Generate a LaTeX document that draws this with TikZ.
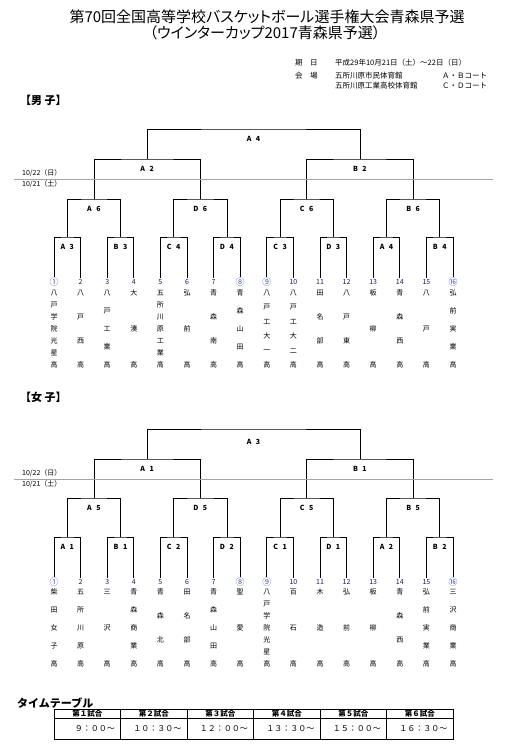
\documentclass[tikz,border=0pt]{standalone}
\usepackage{fontspec}
\setmainfont{Noto Sans CJK JP}
\newfontfamily\ttlfont{Noto Sans CJK JP}[RawFeature=+palt]
\usetikzlibrary{positioning}
\definecolor{numblue}{RGB}{25,25,110}
\definecolor{seedblue}{RGB}{70,90,180}
\definecolor{daygray}{RGB}{165,165,165}
\newcommand\glab[2]{#1\hspace{4.5pt}#2}

\begin{document}
\begin{tikzpicture}[x=1pt,y=-1pt,
    ttl/.style={font=\ttlfont\fontsize{15}{17}\selectfont,inner sep=0pt},
    info/.style={font=\fontsize{7.5}{9}\selectfont,anchor=west,inner sep=0pt},
    sect/.style={font=\fontsize{11}{12}\selectfont\bfseries,anchor=west,inner sep=0pt},
    game/.style={font=\fontsize{7}{8}\selectfont\bfseries,inner sep=0pt},
    num/.style={font=\fontsize{7}{8}\selectfont,text=numblue,inner sep=1.5pt},
    seed/.style={num,font=\fontsize{9}{9}\selectfont,text=seedblue,inner sep=0.8pt},
    chr/.style={font=\fontsize{7}{8}\selectfont,inner sep=0pt},
    brk/.style={draw=black,line width=0.7pt},
    day/.style={draw=daygray,line width=0.6pt},
    dlbl/.style={font=\fontsize{7}{8}\selectfont,anchor=west,inner sep=0pt},
    tbl/.style={draw=black,line width=0.9pt},
    hcell/.style={font=\fontsize{7.5}{8}\selectfont\bfseries,inner sep=0pt},
    tcell/.style={font=\fontsize{8}{9}\selectfont,anchor=east,inner sep=0pt}]

  \useasboundingbox (0,0) rectangle (506,746);

  % title
  \node[ttl] (ttl1) at (267,17) {第70回全国高等学校バスケットボール選手権大会青森県予選};
  \node[ttl] (ttl2) at (265,33) {（ウインターカップ2017青森県予選）};
  % date and venue
  \node[info] (dt0) at (295,63) {期　日};
  \node[info] (dt1) at (335,63) {平成29年10月21日（土）～22日（日）};
  \node[info] (vn0) at (295,76) {会　場};
  \node[info] (vn1) at (335,76) {五所川原市民体育館};
  \node[info] (vn2) at (442,76) {Ａ・Ｂコート};
  \node[info] (vn3) at (335,86) {五所川原工業高校体育館};
  \node[info] (vn4) at (442,86) {Ｃ・Ｄコート};

  % boys
  \node[sect] (boys) at (20,100) {【男 子】};
  \foreach \i/\t/\s in {1/①/seed,2/2/num,3/3/num,4/4/num,5/5/num,6/6/num,7/7/num,8/⑧/seed,
      9/⑨/seed,10/10/num,11/11/num,12/12/num,13/13/num,14/14/num,15/15/num,16/⑯/seed}
    \node[\s] (bn\i) at ({54+26.6*(\i-1)},282) {\t};
  \foreach \i/\n/\s in {1/7/{八,戸,学,院,光,星,高},2/4/{八,戸,西,高},3/5/{八,戸,工,業,高},
      4/3/{大,湊,高},5/7/{五,所,川,原,工,業,高},6/3/{弘,前,高},7/4/{青,森,南,高},
      8/5/{青,森,山,田,高},9/6/{八,戸,工,大,一,高},10/6/{八,戸,工,大,二,高},
      11/4/{田,名,部,高},12/4/{八,戸,東,高},13/3/{板,柳,高},14/4/{青,森,西,高},
      15/3/{八,戸,高},16/5/{弘,前,実,業,高}}
    \foreach \c [count=\k] in \s
      \node[chr] (bt\i-\k) at ({54+26.6*(\i-1)},{293+72*(\k-1)/(\n-1)}) {\c};
  % boys - match points
  \foreach \k in {1,...,8} \coordinate (b1-\k) at ({67.3+53.2*(\k-1)},237);
  \foreach \k in {1,...,4} \coordinate (b2-\k) at ({93.9+106.4*(\k-1)},199);
  \foreach \k in {1,2} \coordinate (b3-\k) at ({147.1+212.8*(\k-1)},159);
  \coordinate (b4) at (253.5,129);
  % boys - lines
  \foreach \k in {1,...,8}{
    \pgfmathtruncatemacro\a{2*\k-1}\pgfmathtruncatemacro\b{2*\k}
    \draw[brk] (bn\a) |- (b1-\k) -| (bn\b);}
  \foreach \k in {1,...,4}{
    \pgfmathtruncatemacro\a{2*\k-1}\pgfmathtruncatemacro\b{2*\k}
    \draw[brk] (b1-\a) |- (b2-\k) -| (b1-\b);}
  \draw[brk] (b2-1) |- (b3-1) -| (b2-2);
  \draw[brk] (b2-3) |- (b3-2) -| (b2-4);
  \draw[brk] (b3-1) |- (b4) -| (b3-2);
  % boys - games
  \foreach \t [count=\k] in {\glab A3,\glab B3,\glab C4,\glab D4,\glab C3,\glab D3,\glab A4,\glab B4}
    \node[game] (bg1-\k) at ([yshift=-10pt]b1-\k) {\t};
  \foreach \t [count=\k] in {\glab A6,\glab D6,\glab C6,\glab B6}
    \node[game] (bg2-\k) at ([yshift=-10pt]b2-\k) {\t};
  \node[game] (bg3-1) at ([yshift=-10pt]b3-1) {\glab A2};
  \node[game] (bg3-2) at ([yshift=-10pt]b3-2) {\glab B2};
  \node[game] (bg4) at ([yshift=-10pt]b4) {\glab A4};
  % boys - days
  \coordinate (bdl) at (14,179);
  \coordinate (bdr) at (493,179);
  \draw[day] (bdl) -- (bdr);
  \node[dlbl] (bd22) at (22,173) {10/22（日）};
  \node[dlbl] (bd21) at (22,184) {10/21（土）};

  % girls
  \node[sect] (girls) at (20,397) {【女 子】};
  \foreach \i/\t/\s in {1/①/seed,2/2/num,3/3/num,4/4/num,5/5/num,6/6/num,7/7/num,8/⑧/seed,
      9/⑨/seed,10/10/num,11/11/num,12/12/num,13/13/num,14/14/num,15/15/num,16/⑯/seed}
    \node[\s] (gn\i) at ({54+26.6*(\i-1)},582) {\t};
  \foreach \i/\n/\s in {1/5/{柴,田,女,子,高},2/5/{五,所,川,原,高},3/3/{三,沢,高},
      4/5/{青,森,商,業,高},5/4/{青,森,北,高},6/4/{田,名,部,高},7/5/{青,森,山,田,高},
      8/3/{聖,愛,高},9/7/{八,戸,学,院,光,星,高},10/3/{百,石,高},11/3/{木,造,高},
      12/3/{弘,前,高},13/3/{板,柳,高},14/4/{青,森,西,高},15/5/{弘,前,実,業,高},
      16/5/{三,沢,商,業,高}}
    \foreach \c [count=\k] in \s
      \node[chr] (gt\i-\k) at ({54+26.6*(\i-1)},{592+72*(\k-1)/(\n-1)}) {\c};
  % girls - match points
  \foreach \k in {1,...,8} \coordinate (g1-\k) at ({67.3+53.2*(\k-1)},537);
  \foreach \k in {1,...,4} \coordinate (g2-\k) at ({93.9+106.4*(\k-1)},498);
  \foreach \k in {1,2} \coordinate (g3-\k) at ({147.1+212.8*(\k-1)},459);
  \coordinate (g4) at (253.5,429);
  % girls - lines
  \foreach \k in {1,...,8}{
    \pgfmathtruncatemacro\a{2*\k-1}\pgfmathtruncatemacro\b{2*\k}
    \draw[brk] (gn\a) |- (g1-\k) -| (gn\b);}
  \foreach \k in {1,...,4}{
    \pgfmathtruncatemacro\a{2*\k-1}\pgfmathtruncatemacro\b{2*\k}
    \draw[brk] (g1-\a) |- (g2-\k) -| (g1-\b);}
  \draw[brk] (g2-1) |- (g3-1) -| (g2-2);
  \draw[brk] (g2-3) |- (g3-2) -| (g2-4);
  \draw[brk] (g3-1) |- (g4) -| (g3-2);
  % girls - games
  \foreach \t [count=\k] in {\glab A1,\glab B1,\glab C2,\glab D2,\glab C1,\glab D1,\glab A2,\glab B2}
    \node[game] (gg1-\k) at ([yshift=-10pt]g1-\k) {\t};
  \foreach \t [count=\k] in {\glab A5,\glab D5,\glab C5,\glab B5}
    \node[game] (gg2-\k) at ([yshift=-10pt]g2-\k) {\t};
  \node[game] (gg3-1) at ([yshift=-10pt]g3-1) {\glab A1};
  \node[game] (gg3-2) at ([yshift=-10pt]g3-2) {\glab B1};
  \node[game] (gg4) at ([yshift=-13pt]g4) {\glab A3};
  % girls - days
  \coordinate (gdl) at (14,479);
  \coordinate (gdr) at (493,479);
  \draw[day] (gdl) -- (gdr);
  \node[dlbl] (gd22) at (22,473) {10/22（日）};
  \node[dlbl] (gd21) at (22,484) {10/21（土）};

  % time table
  \node[sect] (tt) at (17,703) {タイムテーブル};
  \draw[tbl] (54,709) rectangle (453,739);
  \draw[tbl] (54,718) -- (453,718);
  \foreach \x in {120.5,187,253.5,320,386.5} \draw[tbl] (\x,709) -- (\x,739);
  \foreach \t [count=\k] in {１,２,３,４,５,６}
    \node[hcell] (h\k) at ({87.25+66.5*(\k-1)},713.5) {第\t{}試合};
  \foreach \t [count=\k] in {９：００～,１０：３０～,１２：００～,１３：３０～,１５：００～,１６：３０～}
    \node[tcell] (t\k) at ({115+66.5*(\k-1)},729) {\t};
\end{tikzpicture}
\end{document}
